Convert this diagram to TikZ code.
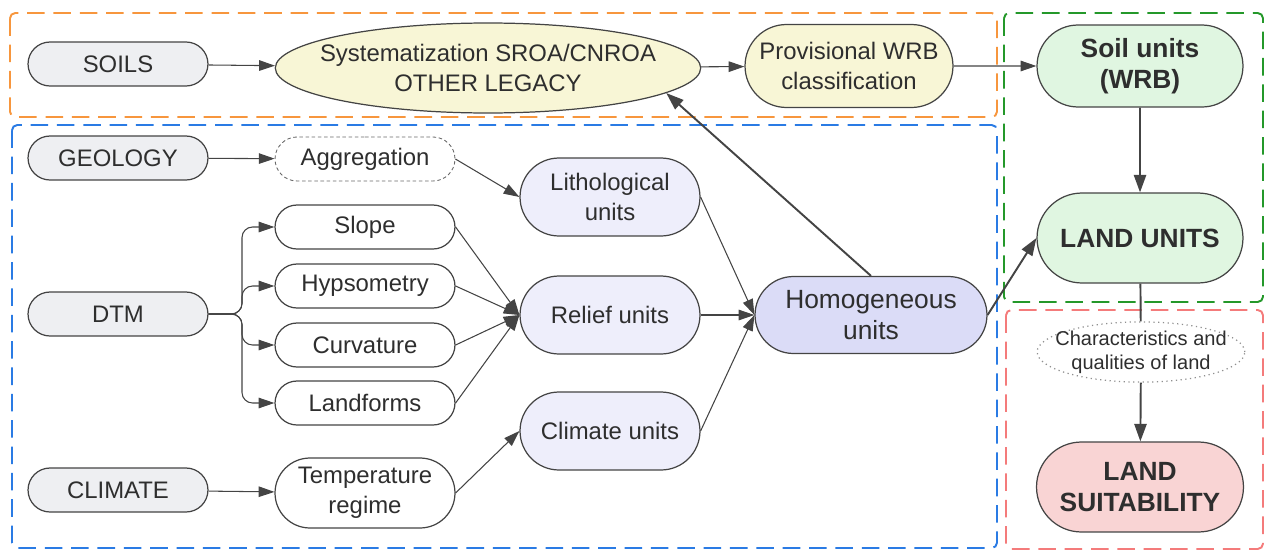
\documentclass[tikz,border=0pt]{standalone}
\usepackage{fontspec}
\setmainfont{Liberation Sans}
\usepackage{xcolor}
\usetikzlibrary{shapes.misc,shapes.geometric,arrows.meta}
\definecolor{edgegrey}{HTML}{444444}
\definecolor{textgrey}{HTML}{2E2E2E}
\definecolor{greyfill}{HTML}{EEEFF2}
\definecolor{yellowfill}{HTML}{F8F6D6}
\definecolor{lilacfill}{HTML}{EEEEFB}
\definecolor{lilacdark}{HTML}{DBDCF7}
\definecolor{greenfill}{HTML}{E0F6E1}
\definecolor{redfill}{HTML}{F9D4D4}
\definecolor{orangeline}{HTML}{F7963D}
\definecolor{blueline}{HTML}{2A7BE4}
\definecolor{greenline}{HTML}{24982A}
\definecolor{redline}{HTML}{F47B7B}

\begin{document}
\begin{tikzpicture}[x=0.02cm, y=-0.02cm,
        box/.style={draw=edgegrey, line width=0.7pt, text=textgrey, align=center, inner sep=0pt,
            font=\fontsize{13.6}{17}\selectfont},
        pill/.style={box, rounded rectangle, minimum width=3.6cm, minimum height=0.88cm},
        tall/.style={minimum height=1.56cm},
        bold/.style={font=\fontsize{15}{18}\selectfont\bfseries},
        group/.style={line width=1.1pt, dash pattern=on 10pt off 5pt, rounded corners=3pt},
        link/.style={-{Triangle[length=9pt,width=6pt]}, draw=edgegrey, line width=0.6pt},
        strong/.style={-{Triangle[length=10pt,width=7pt]}, draw=edgegrey, line width=1.1pt}]
        \useasboundingbox (0,0) rectangle (1265,551);

        \draw[group, orangeline] (10,13) rectangle (997,117);
        \draw[group, blueline] (12,125) rectangle (997,548);
        \draw[group, greenline] (1004,13) rectangle (1263,302);
        \draw[group, redline] (1006,310) rectangle (1263,549);

        \node[pill, fill=greyfill] (soils) at (118,64) {SOILS};
        \node[box, ellipse, fill=yellowfill, inner xsep=-10pt, minimum width=8.5cm, minimum height=1.8cm] (syst) at (488,68) {Systematization SROA/CNROA\\OTHER LEGACY};
        \node[pill, fill=yellowfill, minimum width=4.16cm, minimum height=1.66cm] (prov) at (849,66) {Provisional WRB\\classification};
        \node[pill, bold, fill=greenfill, minimum width=4.12cm, minimum height=1.64cm] (soilunits) at (1140,66) {Soil units\\(WRB)};
        \node[pill, bold, fill=greenfill, minimum width=4.12cm, minimum height=1.8cm] (landunits) at (1140,238) {LAND UNITS};
        \node[box, ellipse, draw=edgegrey!60, dotted, inner xsep=-7pt, minimum width=4.1cm, minimum height=1.2cm,
            font=\fontsize{11.4}{13.6}\selectfont] (charact) at (1141,352) {Characteristics and\\qualities of land};
        \node[pill, bold, fill=redfill, minimum width=4.14cm, minimum height=1.8cm] (suit) at (1140,487) {LAND\\SUITABILITY};

        \node[pill, fill=greyfill] (geology) at (118,158) {GEOLOGY};
        \node[pill, draw=edgegrey!80, line width=0.5pt, dash pattern=on 2pt off 1.5pt] (aggr) at (365,159) {Aggregation};
        \node[pill, tall, fill=lilacfill] (litho) at (610,197) {Lithological\\units};
        \node[pill] (slope) at (365,227) {Slope};
        \node[pill] (hyps) at (365,286) {Hypsometry};
        \node[pill] (curv) at (365,345) {Curvature};
        \node[pill] (landf) at (365,403) {Landforms};
        \node[pill, fill=greyfill] (dtm) at (118,314) {DTM};
        \node[pill, tall, fill=lilacfill] (relief) at (610,315) {Relief units};
        \node[pill, tall, fill=lilacfill] (climu) at (610,431) {Climate units};
        \node[pill, fill=lilacdark, minimum width=4.64cm, minimum height=1.54cm,
            font=\fontsize{15}{18}\selectfont] (homog) at (871,315) {Homogeneous\\units};
        \node[pill, fill=greyfill] (climate) at (118,490) {CLIMATE};
        \node[pill, minimum height=1.4cm] (temp) at (365,493) {Temperature\\regime};

        \draw[link] (soils) -- (syst);
        \draw[link] (syst) -- (prov);
        \draw[link] (prov) -- (soilunits);
        \draw[link] (geology) -- (aggr);
        \draw[link] (aggr.east) -- (litho.west);
        \foreach \n in {slope,hyps,curv,landf}
            \draw[link, rounded corners=6pt] (dtm.east) -- (242,314) |- (\n.west);
        \foreach \n in {slope,hyps,curv,landf}
            \draw[link] (\n.east) -- (relief.west);
        \foreach \n in {litho,relief,climu}
            \draw[link] (\n.east) -- (homog.west);
        \draw[link] (climate) -- (temp);
        \draw[link] (temp.east) -- (climu.west);

        \draw[strong] (homog.north) -- (syst.-8);
        \draw[strong] (homog.east) -- (landunits.west);
        \draw[strong] (soilunits) -- (landunits);
        \draw[line width=1.1pt, edgegrey] (landunits) -- (charact);
        \draw[strong] (charact) -- (suit);

    \end{tikzpicture}
\end{document}
